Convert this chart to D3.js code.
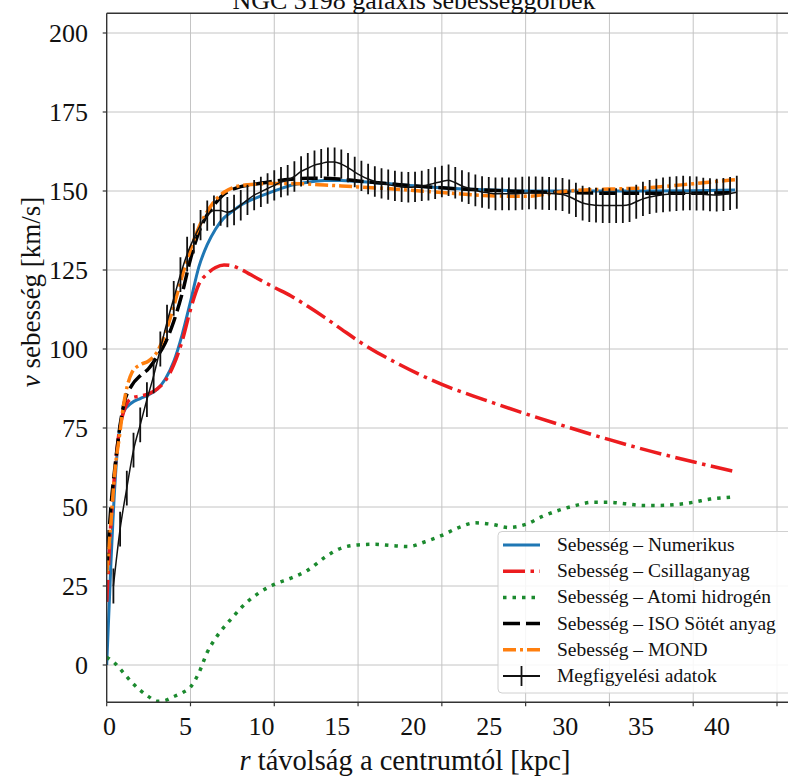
<!DOCTYPE html>
<html><head><meta charset="utf-8">
<script src="https://cdn.jsdelivr.net/npm/d3@7"></script>
<style>
body{margin:0;background:#fff}
svg{display:block}
text{font-family:"Liberation Serif","DejaVu Serif",serif;fill:#111}
</style></head>
<body><svg id="c" width="788" height="776"></svg>
<script>
// ---------- data ----------
const title = "NGC 3198 galaxis sebességgörbék";
const xTitle = "távolság a centrumtól [kpc]";
const yTitle = "sebesség [km/s]";
const xTicks = [0,5,10,15,20,25,30,35,40];
const yTicks = [0,25,50,75,100,125,150,175,200];

const modelR = [0,0.25,0.5,0.75,1,1.5,2,2.5,3,3.5,4,4.5,5,5.5,6,6.5,7,7.5,8,9,10,11,12,13,14,15,17.5,20,22.5,25,27.5,30,32.5,35,37.5];
const vNum   = [0,32,58,74,80,83,84.3,85.5,87.2,90.5,96,104.5,115,126,133,138,141.5,143.6,145.5,148,150,151.8,152.8,153.3,153.3,153,152,151,150.4,150,150,150,150,150.1,150.3];
const vStar  = [20,45,62,74,80,84.5,85.1,85.8,87.3,90,95,102.5,112.5,120.5,123.8,125.8,126.6,126.3,125.2,122.3,119.5,116.8,113.5,110,106.3,102.6,95,88.8,84,79.5,75.3,71.3,67.6,64.3,61.2];
const vISO   = [30,50,63,74,82,88.5,91.5,93.8,97.5,102,108.7,117.5,128.5,137,142.5,146.2,149,150.5,151.4,152.3,153.1,153.7,154,154,153.7,153.2,152,151,150.3,149.8,149.5,149.3,149.3,149.3,149.5];
const vMOND  = [29,45,62,72,82,92.5,95,96.2,99,105,113.5,123,131.5,138.5,143.5,147.2,149.6,151,151.7,152.2,152.4,152.4,152.2,151.9,151.6,151.3,150.5,149.5,148.6,148.3,150,150.6,151.1,152.3,153.6];

const hiR = [0,0.5,1,1.5,2,2.5,3,3.5,4,4.5,5,5.5,6,6.5,7,7.5,8,8.5,9,10,11,12,13,14,15,16,17,18,19,20,21,22,23,24,25,26,27,28,29,30,31,32,33,34,35,36,37,37.5];
const hiV = [2.5,0.5,-2.5,-5.5,-8,-10,-11.5,-11.2,-10,-8.8,-7,-2.5,4,8.5,12,15,18,20.5,22.5,25.5,27.5,30,34,37,38,38.2,37.8,37.5,39,41,43.5,45,44.5,43.5,44.5,47,49,50.5,51.5,51.5,51,50.5,50.5,50.8,51.5,52.5,53,53.2];

const obsR = [0.4,0.8,1.2,1.6,2.0,2.4,2.8,3.2,3.6,4.0,4.4,4.8,5.2,5.6,6.0,6.4,6.8,7.2,7.6,8.0,8.4,8.8,9.2,9.6,10.0,10.4,10.8,11.2,11.6,12.0,12.4,12.8,13.2,13.6,14.0,14.4,14.8,15.2,15.6,16.0,16.4,16.8,17.2,17.6,18.0,18.4,18.8,19.2,19.6,20.0,20.4,20.8,21.2,21.6,22.0,22.4,22.8,23.2,23.6,24.0,24.4,24.8,25.2,25.6,26.0,26.4,26.8,27.2,27.6,28.0,28.4,28.8,29.2,29.6,30.0,30.4,30.8,31.2,31.6,32.0,32.4,32.8,33.2,33.6,34.0,34.4,34.8,35.2,35.6,36.0,36.4,36.8,37.2,37.6];
const obsV = [25,43,56,68,76,84,91.5,100,108.5,116,123.5,130,135,139.2,142.2,143.8,143.8,143.3,144,145.5,147.2,148.7,149.7,150.8,151.8,152.8,153.4,154.6,156.2,157.2,158.2,158.7,159.2,159.2,158.5,157.4,156,154.8,153.8,153,152.4,152,151.6,151.3,151.2,151.3,151.6,152,152.5,153,153.4,152.6,151.6,150.9,150.2,149.7,149.4,149.1,149.1,149.1,149.1,149.3,149.4,149.4,149.3,149.2,149.1,148.9,148.2,147.2,146.2,145.7,145.5,145.4,145.4,145.4,145.4,145.7,146.6,147.5,148.1,148.5,148.8,149.0,149.2,149.3,149.3,149.2,149.0,148.8,148.7,148.9,149.2,149.6];
const obsErr = [5.5,5.5,5.5,5.5,5.5,5.5,5.5,5.5,5.5,5.5,5.5,5.5,4.8,4.8,4.8,4.8,4.8,4.8,4.8,4.8,4.8,4.8,4.8,4.8,4.8,4.8,4.8,4.8,4.8,4.8,4.6,4.6,4.6,4.6,4.6,4.6,4.8,4.8,4.8,4.8,4.8,4.8,4.8,4.8,4.8,4.8,4.8,5,5,5,5,5,5,5,5,5,5,5.2,5.2,5.2,5.2,5.2,5.2,5.2,5.2,5.2,5.2,5.2,5.4,5.4,5.5,5.5,5.5,5.5,5.5,5.5,5.5,5.5,5.4,5.4,5.4,5.4,5.5,5.5,5.5,5.5,5.4,5.4,5.2,5.2,5.2,5.2,5.2,5.2];

const legendLabels = ["Sebesség – Numerikus","Sebesség – Csillaganyag","Sebesség – Atomi hidrogén","Sebesség – ISO Sötét anyag","Sebesség – MOND","Megfigyelési adatok"];

// ---------- layout ----------
const svg = d3.select("#c");
const L = 106.7, T = 13.3, B = 702.3, R = 800;
const x = d3.scaleLinear().domain([0,40]).range([106.7,777]);
const y = d3.scaleLinear().domain([0,200]).range([665,33]);
const xLab = d3.scaleLinear().domain([0,40]).range([109.5,717]);

svg.append("defs").append("clipPath").attr("id","pc")
  .append("rect").attr("x",L).attr("y",T).attr("width",R-L).attr("height",B-T);

// grid
const grid = svg.append("g").attr("stroke","#c4c4c4").attr("stroke-width",1);
grid.selectAll(".gx").data(xTicks.filter(d=>d>0)).join("line")
  .attr("x1",d=>x(d)).attr("x2",d=>x(d)).attr("y1",T).attr("y2",B);
grid.selectAll(".gy").data(yTicks).join("line")
  .attr("y1",d=>y(d)).attr("y2",d=>y(d)).attr("x1",L).attr("x2",R);

const plot = svg.append("g").attr("clip-path","url(#pc)");
const line = d3.line().x(d=>x(d[0])).y(d=>y(d[1])).curve(d3.curveMonotoneX);

const styles = [
  {v:vNum,  r:modelR, color:"#1f77b4", w:3,   dash:null},
  {v:vStar, r:modelR, color:"#ec1c1f", w:3.5, dash:"22,5.5,3.5,5.5"},
  {v:hiV,   r:hiR,    color:"#1b8a2e", w:3.5, dash:"3.5,6"},
  {v:vISO,  r:modelR, color:"#000000", w:3.5, dash:"17,6"},
  {v:vMOND, r:modelR, color:"#ff7f0e", w:3.5, dash:"13,4,3,4"}
];
function drawModel(s){
  plot.append("path").datum(s.r.map((r,i)=>[r,s.v[i]]))
    .attr("fill","none").attr("stroke",s.color).attr("stroke-width",s.w)
    .attr("stroke-dasharray",s.dash).attr("d",line);
}
styles.forEach(drawModel);

// observed data
const obs = obsR.map((r,i)=>({r, v:obsV[i], e:obsErr[i]}));
plot.append("path").datum(obs.map(d=>[d.r,d.v]))
  .attr("fill","none").attr("stroke","#111").attr("stroke-width",1.5)
  .attr("d", d3.line().x(d=>x(d[0])).y(d=>y(d[1])).curve(d3.curveMonotoneX));
plot.append("g").selectAll("line").data(obs).join("line")
  .attr("x1",d=>x(d.r)).attr("x2",d=>x(d.r))
  .attr("y1",d=>y(d.v-d.e)).attr("y2",d=>y(d.v+d.e))
  .attr("stroke","#111").attr("stroke-width",1.8);

// spines
const sp = svg.append("g").attr("stroke","#333").attr("stroke-width",1.4).attr("fill","none");
sp.append("line").attr("x1",L).attr("x2",L).attr("y1",T).attr("y2",B);
sp.append("line").attr("x1",L).attr("x2",R).attr("y1",B).attr("y2",B);
sp.append("line").attr("x1",L).attr("x2",R).attr("y1",T).attr("y2",T);

// ticks
svg.append("g").attr("stroke","#333").attr("stroke-width",1.2)
  .selectAll("line").data(xTicks).join("line")
  .attr("x1",d=>x(d)).attr("x2",d=>x(d)).attr("y1",B).attr("y2",B+4);
svg.append("g").attr("stroke","#333").attr("stroke-width",1.2)
  .selectAll("line").data(yTicks).join("line")
  .attr("y1",d=>y(d)).attr("y2",d=>y(d)).attr("x1",L-4).attr("x2",L);

// tick labels
svg.append("g").selectAll("text").data(xTicks).join("text")
  .attr("x",d=>xLab(d)).attr("y",735).attr("text-anchor","middle")
  .attr("font-size",26).text(d=>d);
svg.append("g").selectAll("text").data(yTicks).join("text")
  .attr("x",88).attr("y",d=>y(d)+9).attr("text-anchor","end")
  .attr("font-size",26).text(d=>d);

// axis titles
const xt = svg.append("text").attr("x",405).attr("y",770).attr("text-anchor","middle").attr("font-size",28.5);
xt.append("tspan").attr("font-style","italic").text("r");
xt.append("tspan").text(" " + xTitle);
const yt = svg.append("text").attr("transform","translate(40,292) rotate(-90)").attr("text-anchor","middle").attr("font-size",27);
yt.append("tspan").attr("font-style","italic").text("v");
yt.append("tspan").text(" " + yTitle);

// title (partly above the picture's top edge, as in the reference)
svg.append("text").attr("x",414).attr("y",9).attr("text-anchor","middle").attr("font-size",26).text(title);

// legend
const lg = svg.append("g");
lg.append("rect").attr("x",498).attr("y",531.5).attr("width",320).attr("height",161.5)
  .attr("rx",4).attr("fill","#fff").attr("fill-opacity",0.85).attr("stroke","#d0d0d0").attr("stroke-width",1);
const rowY = d3.scaleLinear().domain([0,5]).range([545,676]);
legendLabels.forEach((lab,i)=>{
  const yy = rowY(i);
  if(i<5){
    const s = styles[i];
    lg.append("line").attr("x1",503).attr("x2",540).attr("y1",yy).attr("y2",yy)
      .attr("stroke",s.color).attr("stroke-width",s.w).attr("stroke-dasharray",s.dash);
  } else {
    lg.append("line").attr("x1",503).attr("x2",540).attr("y1",yy).attr("y2",yy).attr("stroke","#111").attr("stroke-width",1.8);
    lg.append("line").attr("x1",521.5).attr("x2",521.5).attr("y1",yy-10).attr("y2",yy+10).attr("stroke","#111").attr("stroke-width",1.8);
  }
  lg.append("text").attr("x",557).attr("y",yy+6).attr("font-size",19.5).text(lab);
});
</script></body></html>
